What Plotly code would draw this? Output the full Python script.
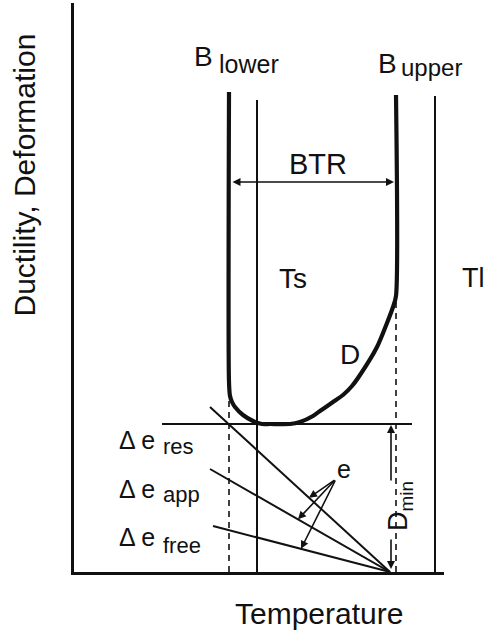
import numpy as np
import plotly.graph_objects as go

# --- schematic values (temperature along x, ductility / strain along y, arbitrary units) ---
T_LOWER = 155        # B_lower: lower bound of the brittle temperature range
T_SOLIDUS = 183      # Ts
T_UPPER = 322        # B_upper
T_LIQUIDUS = 361     # Tl
T_CONVERGE = 316     # strain lines meet the temperature axis here
D_MIN = 148          # minimum ductility inside the BTR

TOP_SOLIDUS = 472
TOP_LIQUIDUS = 476
DASH_TOP_LOWER = 172
DASH_TOP_UPPER = 276
DMIN_LINE_T = [88, 338]

# ductility curve D, running down the B_lower branch, through the minimum and up the B_upper branch
d_temp = [155, 155, 156, 158, 161, 169, 179, 188, 196, 216, 226, 239, 246, 259, 269, 278, 286, 303, 313, 319, 322, 322]
d_duct = [480, 190, 176, 170, 165, 157, 151, 148, 148, 148, 150, 156, 161, 170, 177, 186, 197, 225, 249, 265, 276, 477]

# strain curves: start temperature and start value, all ending at T_CONVERGE on the axis
strain_names = ["res", "app", "free"]
strain_t0 = [136, 136, 139]
strain_e0 = [165, 103, 46]
# where the "e" arrows touch each strain line
strain_arrow_t = [235, 224, 227]

X_RANGE = [0, 370]
Y_RANGE = [0, 569]

FONT = "Liberation Sans, Arial, Helvetica, sans-serif"
INK = "#111111"

fig = go.Figure()

def line(xs, ys, width, dash=None, shape="linear"):
    fig.add_trace(go.Scatter(
        x=xs, y=ys, mode="lines", hoverinfo="skip", showlegend=False,
        line=dict(color=INK, width=width, dash=dash, shape=shape, smoothing=0.7),
    ))

# ductility curve with the BTR bounds
line(d_temp, d_duct, 4.2, shape="spline")
# solidus / liquidus
line([T_SOLIDUS, T_SOLIDUS], [0, TOP_SOLIDUS], 2)
line([T_LIQUIDUS, T_LIQUIDUS], [0, TOP_LIQUIDUS], 2)
# minimum ductility level
line(DMIN_LINE_T, [D_MIN, D_MIN], 2)
# dashed projections of the BTR bounds
line([T_LOWER, T_LOWER], [0, DASH_TOP_LOWER], 1.6, dash="6px,5px")
line([T_UPPER, T_UPPER], [0, DASH_TOP_UPPER], 1.6, dash="6px,5px")
# strain lines
for t0, e0 in zip(strain_t0, strain_e0):
    line([t0, T_CONVERGE], [e0, 0], 2)


def text(s, x, y, size, xanchor="left", angle=0):
    # placed in paper units so labels outside the axis ranges stay visible
    fig.add_annotation(
        x=(x - X_RANGE[0]) / (X_RANGE[1] - X_RANGE[0]),
        y=(y - Y_RANGE[0]) / (Y_RANGE[1] - Y_RANGE[0]),
        xref="paper", yref="paper", text=s, showarrow=False,
        xanchor=xanchor, yanchor="middle", textangle=angle,
        font=dict(family=FONT, size=size, color=INK),
    )


def arrow(x, y, ax, ay, side="end"):
    fig.add_annotation(
        x=x, y=y, ax=ax, ay=ay, xref="x", yref="y", axref="x", ayref="y",
        text="", showarrow=True, arrowhead=2, arrowsize=1.0, arrowwidth=1.6,
        arrowcolor=INK, arrowside=side, standoff=0, startstandoff=0,
    )


# BTR width arrow
BTR_Y = 390
arrow(T_UPPER - 2, BTR_Y, T_LOWER + 2, BTR_Y, side="end+start")
text("BTR", 244, 408, 29, xanchor="center")

# D_min arrow (split around its label)
arrow(T_CONVERGE + 1, D_MIN - 1, T_CONVERGE + 1, 90)
arrow(T_CONVERGE + 1, 3, T_CONVERGE + 1, 34)
text("D<sub>min</sub>", 326, 66, 27, xanchor="center", angle=-90)

# "e" pointer to each strain line
E_TAIL = (262, 93)
for t0, e0, ta in zip(strain_t0, strain_e0, strain_arrow_t):
    ya = float(np.interp(ta, [t0, T_CONVERGE], [e0, 0]))
    arrow(ta, ya, E_TAIL[0], E_TAIL[1])
text("e", 270, 103, 25, xanchor="center")

# bound labels
text("B", 118, 516, 28)
text("lower", 143, 508, 25)
text("B", 302, 509, 28)
text("upper", 325, 504, 24)
text("Ts", 203, 294, 28)
text("Tl", 386, 294, 27)
text("D", 276, 218, 28, xanchor="center")

# strain labels
for name, yc, ys in zip(strain_names, [132, 83, 35], [126, 78, 27]):
    text("\u0394 e", 43, yc, 25)
    text(name, 87, ys, 22)

# axis titles
text("Temperature", 245, -41.5, 30, xanchor="center")
text("Ductility, Deformation", -50.5, 397, 30, xanchor="center", angle=-90)

fig.update_layout(
    width=484, height=634,
    margin=dict(l=74, r=40, t=3, b=62, pad=0),
    paper_bgcolor="white", plot_bgcolor="white",
    xaxis=dict(range=X_RANGE, showgrid=False, zeroline=False, showticklabels=False,
               ticks="", showline=True, linecolor=INK, linewidth=2.5, fixedrange=True),
    yaxis=dict(range=Y_RANGE, showgrid=False, zeroline=False, showticklabels=False,
               ticks="", showline=True, linecolor=INK, linewidth=2.5, fixedrange=True),
    showlegend=False,
)

fig.write_html("out.html")
